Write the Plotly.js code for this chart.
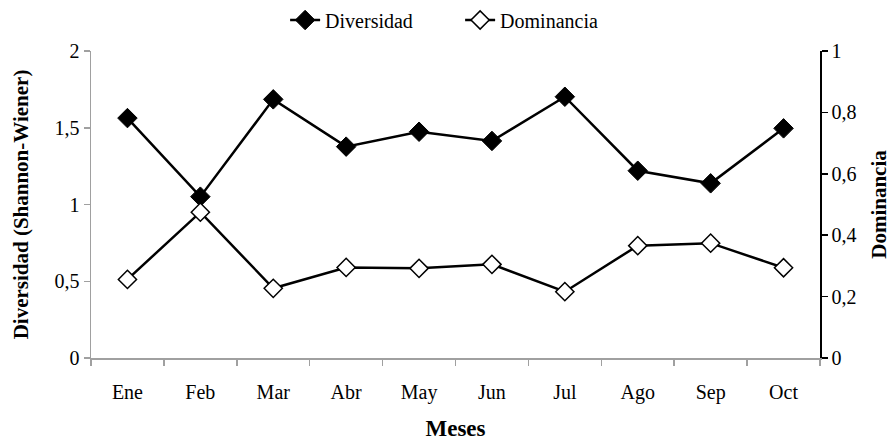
<!DOCTYPE html>
<html>
<head>
<meta charset="utf-8">
<script src="https://cdn.plot.ly/plotly-3.0.1.min.js"></script>
<style>html,body{margin:0;padding:0;background:#fff}#chart{width:891px;height:441px}</style>
</head>
<body>
<div id="chart"></div>
<script>
const meses = ["Ene","Feb","Mar","Abr","May","Jun","Jul","Ago","Sep","Oct"];
const diversidad = [1.563, 1.051, 1.685, 1.377, 1.474, 1.414, 1.702, 1.220, 1.138, 1.496];
const dominancia = [0.256, 0.475, 0.227, 0.295, 0.292, 0.305, 0.216, 0.366, 0.374, 0.294];

const fontFam = '"Liberation Serif", "Times New Roman", serif';

const traces = [
  {
    x: meses, y: diversidad, name: 'Diversidad', type: 'scatter', mode: 'lines+markers',
    line: {color: '#000', width: 2.5},
    marker: {symbol: 'diamond', size: 15, color: '#000', line: {color: '#000', width: 1}},
    yaxis: 'y'
  },
  {
    x: meses, y: dominancia, name: 'Dominancia', type: 'scatter', mode: 'lines+markers',
    line: {color: '#000', width: 2.5},
    marker: {symbol: 'diamond', size: 14, color: '#fff', line: {color: '#000', width: 1.5}},
    yaxis: 'y2'
  }
];

const layout = {
  width: 891, height: 441,
  margin: {l: 91, r: 71, t: 51, b: 83, autoexpand: false},
  paper_bgcolor: '#fff', plot_bgcolor: '#fff',
  separators: ',.',
  font: {family: fontFam, size: 20, color: '#000'},
  showlegend: true,
  legend: {orientation: 'h', xref: 'container', yref: 'container',
           x: 0.320, xanchor: 'left', y: 0.9546, yanchor: 'middle',
           font: {family: fontFam, size: 20, color: '#000'},
           entrywidth: 130, entrywidthmode: 'pixels',
           bgcolor: 'rgba(0,0,0,0)'},
  xaxis: {
    type: 'category', range: [-0.5, 9.5],
    showline: true, linecolor: '#a0a0a0', linewidth: 1.5,
    ticks: 'outside', tickson: 'boundaries', ticklen: 6, tickcolor: '#a0a0a0', tickwidth: 1.5,
    showgrid: false, zeroline: false,
    tickfont: {family: fontFam, size: 20},
    ticklabelstandoff: 15,
    title: {text: '<b>Meses</b>', font: {family: fontFam, size: 23}, standoff: 44}
  },
  yaxis: {
    range: [0, 2], dtick: 0.5, tick0: 0,
    showline: true, linecolor: '#a0a0a0', linewidth: 1.5,
    ticks: 'outside', ticklen: 6, tickcolor: '#a0a0a0', tickwidth: 1.5,
    showgrid: false, zeroline: false,
    tickfont: {family: fontFam, size: 20},
    title: {text: '<b>Diversidad (Shannon-Wiener)</b>', font: {family: fontFam, size: 21}, standoff: 20}
  },
  yaxis2: {
    range: [0, 1], dtick: 0.2, tick0: 0,
    overlaying: 'y', side: 'right',
    showline: true, linecolor: '#000', linewidth: 1.5,
    ticks: 'outside', ticklen: 6, tickcolor: '#000', tickwidth: 1.5,
    showgrid: false, zeroline: false,
    tickfont: {family: fontFam, size: 20},
    title: {text: '<b>Dominancia</b>', font: {family: fontFam, size: 21}, standoff: 17}
  },
  yaxis3: {
    range: [0, 1], dtick: 0.2, tick0: 0,
    overlaying: 'y', side: 'right', anchor: 'x',
    showline: false, ticks: 'inside', ticklen: 6, tickcolor: '#000', tickwidth: 1.5,
    showticklabels: false, showgrid: false, zeroline: false
  }
};

Plotly.newPlot('chart', traces, layout, {displayModeBar: false, staticPlot: true});
</script>
</body>
</html>
